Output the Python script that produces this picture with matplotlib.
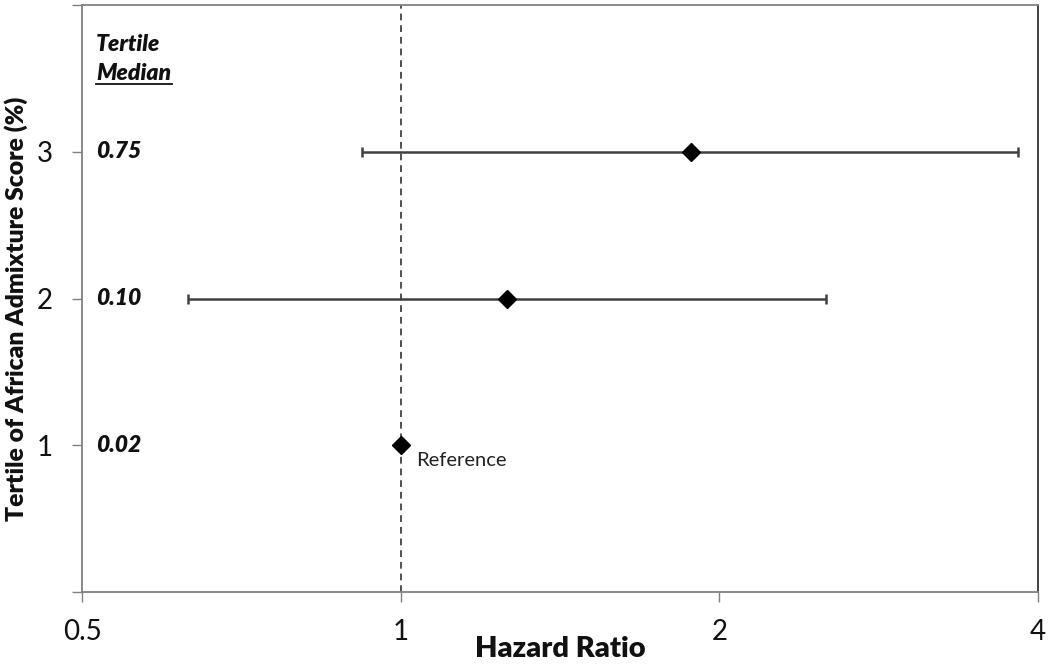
import matplotlib
matplotlib.use("Agg")
import matplotlib.pyplot as plt
from matplotlib.ticker import FixedLocator, FixedFormatter, NullLocator

tertiles = [3, 2, 1]
hr = [1.88, 1.26, 1.0]
ci_low = [0.92, 0.63, 1.0]
ci_high = [3.83, 2.52, 1.0]
medians = ["0.75", "0.10", "0.02"]
xticks = [0.5, 1, 2, 4]
xticklabels = ["0.5", "1", "2", "4"]
yticks = [0, 1, 2, 3, 4]
yticklabels = ["", "1", "2", "3", ""]

plt.rcParams['font.family'] = ['Lato', 'DejaVu Sans']

fig = plt.figure(figsize=(10.5, 6.68), dpi=100)
ax = fig.add_axes([82/1050, 1 - 592/668, (1038-82)/1050, (592-5)/668])
ax.set_xscale('log')
ax.set_xlim(0.5, 4)
ax.set_ylim(0, 4)

ax.axvline(1, color='#505050', lw=1.4, ls=(0, (3.5, 2.5)), zorder=1)

err_lo = [h - l for h, l in zip(hr, ci_low)]
err_hi = [u - h for h, u in zip(hr, ci_high)]
ax.errorbar(hr[:2], tertiles[:2], xerr=[err_lo[:2], err_hi[:2]], fmt='none',
            ecolor='#404040', elinewidth=1.8, capsize=3.5, capthick=1.8, zorder=2)
ax.plot(hr, tertiles, ls='none', marker='D', ms=9, color='black', zorder=3)

tx = ax.get_yaxis_transform()
for t, m in zip(tertiles, medians):
    ax.text(0.0146, t, m, transform=tx, ha='left', va='center',
            fontsize=16.5, fontweight='heavy', fontstyle='italic', color='#111111')
ax.text(0.0146, 3.73, "Tertile", transform=tx, ha='left', va='center',
        fontsize=16.5, fontweight='heavy', fontstyle='italic', color='#111111')
ax.text(0.0146, 3.53, "Median", transform=tx, ha='left', va='center',
        fontsize=16.5, fontweight='heavy', fontstyle='italic', color='#111111')
ax.plot([0.0146, 0.094], [3.465, 3.465], transform=tx,
        color='#111111', lw=1.3, clip_on=False)

ax.annotate("Reference", xy=(hr[2], tertiles[2]), xytext=(11, -11), textcoords='offset points',
            ha='left', va='center', fontsize=14.5, color='#222222')

ax.xaxis.set_major_locator(FixedLocator(xticks))
ax.xaxis.set_major_formatter(FixedFormatter(xticklabels))
ax.xaxis.set_minor_locator(NullLocator())
ax.yaxis.set_major_locator(FixedLocator(yticks))
ax.yaxis.set_major_formatter(FixedFormatter(yticklabels))

ax.tick_params(axis='x', direction='out', length=7.5, width=1, color='#808080',
               labelsize=20, pad=12, labelcolor='#111111')
ax.tick_params(axis='y', direction='out', length=7.5, width=1, color='#808080',
               labelsize=20, pad=13.5, labelcolor='#111111')

for s in ['left', 'top', 'bottom']:
    ax.spines[s].set_color('#808080')
    ax.spines[s].set_linewidth(1.3)
ax.spines['right'].set_color('#333333')
ax.spines['right'].set_linewidth(1.3)

ax.set_xlabel("Hazard Ratio", fontsize=21, fontweight='heavy', color='#111111')
ax.xaxis.set_label_coords(0.5, -0.075)
ax.set_ylabel("Tertile of African Admixture Score (%)", fontsize=17.8, fontweight='heavy',
              color='#111111')
ax.yaxis.set_label_coords(-0.0565, 0.482)

fig.savefig("out.png", dpi=100)
